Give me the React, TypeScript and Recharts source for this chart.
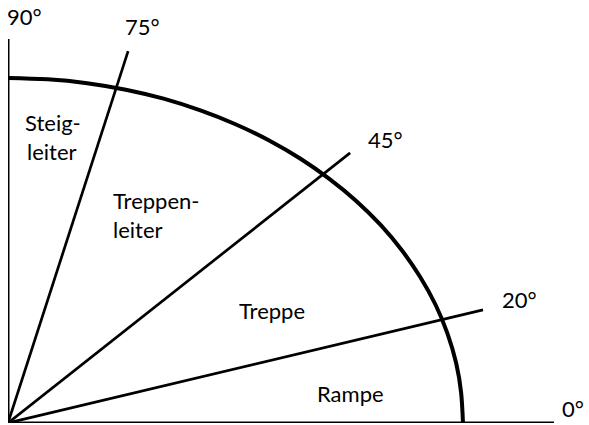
import { Line, LineChart, XAxis, YAxis } from "recharts";

// quarter arc, unit coordinates (every 5 degrees)
const arcX = [
  1, 0.996, 0.985, 0.966, 0.94, 0.906, 0.866, 0.819, 0.766, 0.707,
  0.643, 0.574, 0.5, 0.423, 0.342, 0.259, 0.174, 0.087, 0,
];
const arcY = [
  0, 0.087, 0.174, 0.259, 0.342, 0.423, 0.5, 0.574, 0.643, 0.707,
  0.766, 0.819, 0.866, 0.906, 0.94, 0.966, 0.985, 0.996, 1,
];

// ray end points (unit coordinates), from the origin
const rayNames = ["75°", "45°", "20°"];
const rayEndX = [0.264, 0.752, 1.044];
const rayEndY = [1.078, 0.783, 0.328];

// axis ends
const axisTopY = 1.113;
const axisRightX = 1.2;

const regionNames = ["Steig-\nleiter", "Treppen-\nleiter", "Treppe", "Rampe"];

const arcData = arcX.map((x, i) => ({ x, y: arcY[i] }));
const rays = rayNames.map((name, i) => ({
  name,
  data: [
    { x: 0, y: 0 },
    { x: rayEndX[i], y: rayEndY[i] },
  ],
}));
const vAxis = [
  { x: 0, y: 0 },
  { x: 0, y: axisTopY },
];
const hAxis = [
  { x: 0, y: 0 },
  { x: axisRightX, y: 0 },
];

const W = 589;
const H = 425;
const FONT = "Lato, 'Open Sans', sans-serif";

// text anchors in pixels (left, baseline)
const degreePos: [number, number][] = [
  [125, 35],
  [368, 148],
  [502, 308],
];
const regionPos: [number, number][] = [
  [25, 131],
  [113, 209],
  [239, 319],
  [317, 402],
];

export default function App() {
  return (
    <div style={{ position: "absolute", left: 0, top: 0, width: W, height: H, background: "#fff" }}>
      <LineChart width={W} height={H} margin={{ top: 0, right: 0, bottom: 2, left: 8 }}>
        <XAxis dataKey="x" type="number" domain={[0, 1.277]} hide allowDataOverflow />
        <YAxis dataKey="y" type="number" domain={[0, 1.226]} hide allowDataOverflow />
        <Line data={vAxis} dataKey="y" stroke="#000" strokeWidth={3} dot={false} activeDot={false} isAnimationActive={false} />
        <Line data={hAxis} dataKey="y" stroke="#000" strokeWidth={3} dot={false} activeDot={false} isAnimationActive={false} />
        {rays.map((r) => (
          <Line
            key={r.name}
            data={r.data}
            dataKey="y"
            stroke="#000"
            strokeWidth={2.7}
            dot={false}
            activeDot={false}
            isAnimationActive={false}
          />
        ))}
        <Line
          data={arcData}
          dataKey="y"
          type="natural"
          stroke="#000"
          strokeWidth={4}
          dot={false}
          activeDot={false}
          isAnimationActive={false}
        />
        <g fontFamily={FONT} fontSize={22} fill="#000">
          <text x={7} y={25}>90°</text>
          <text x={562} y={417}>0°</text>
          {rayNames.map((n, i) => (
            <text key={n} x={degreePos[i][0]} y={degreePos[i][1]}>
              {n}
            </text>
          ))}
          {regionNames.map((n, i) =>
            n.split("\n").map((line, j) => (
              <text key={n + j} x={regionPos[i][0] + (j && i === 0 ? 2 : 0)} y={regionPos[i][1] + j * 29}>
                {line}
              </text>
            ))
          )}
        </g>
      </LineChart>
    </div>
  );
}
